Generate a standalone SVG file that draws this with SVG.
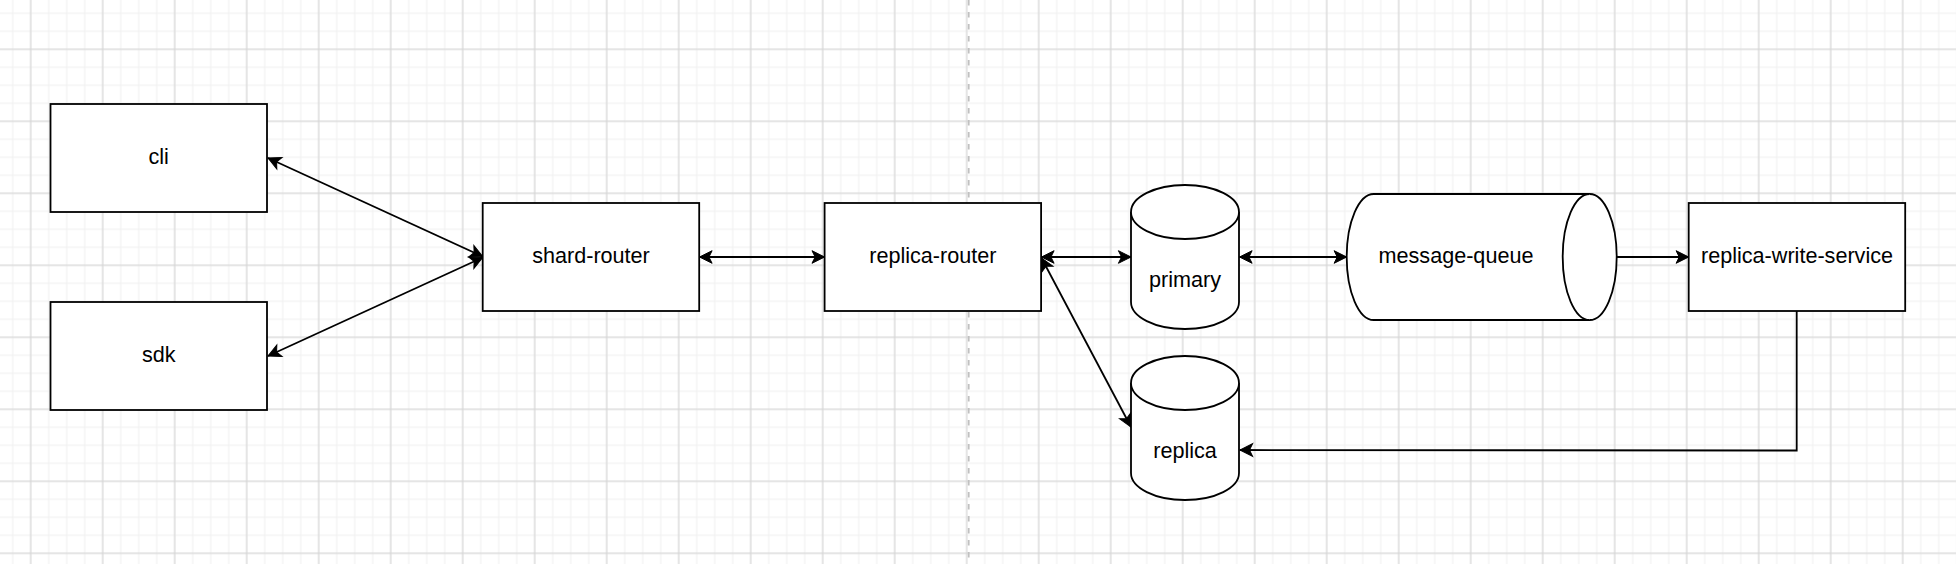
<svg xmlns="http://www.w3.org/2000/svg" width="1956" height="564" viewBox="0 0 1956 564">
<style>
.box{fill:#ffffff;stroke:#000000;stroke-width:1.8}
.lbl{font-family:"Liberation Sans",Arial,Helvetica,sans-serif;font-size:21.6px;fill:#000000;text-anchor:middle}
.edge{fill:none;stroke:#000000;stroke-width:1.8}
</style>
<defs>
<pattern id="minor" patternUnits="userSpaceOnUse" x="3.7" y="4.3" width="18" height="18">
<path d="M9,0 V18 M0,9 H18" stroke="#efefef" stroke-width="1" fill="none"/>
</pattern>
<pattern id="major" patternUnits="userSpaceOnUse" x="-5.3" y="13.3" width="72" height="72">
<path d="M36,0 V72 M0,36 H72" stroke="#d3d3d3" stroke-width="1" fill="none"/>
</pattern>
<marker id="arr" markerUnits="userSpaceOnUse" markerWidth="16" markerHeight="16" viewBox="-14 -8 16 16" refX="0" refY="0" orient="auto-start-reverse" overflow="visible">
<path d="M0,0 L-12.6,-6.3 L-9.45,0 L-12.6,6.3 Z" fill="#000000" stroke="#000000" stroke-width="1"/>
</marker>
</defs>
<g id="background">
<rect width="1956" height="564" fill="#ffffff"/>
<rect width="1956" height="564" fill="url(#minor)"/>
<rect width="1956" height="564" fill="url(#major)"/>
<line x1="968.7" y1="0" x2="968.7" y2="564" stroke="#c0c0c0" stroke-width="1.8" stroke-dasharray="5.4 6.6"/>
</g>
<g id="connectors">
<path class="edge" d="M268,158 L482.7,256.5" marker-start="url(#arr)" marker-end="url(#arr)"/>
<path class="edge" d="M268,356 L482.7,257.5" marker-start="url(#arr)" marker-end="url(#arr)"/>
<path class="edge" d="M699.5,257 L824.6,257" marker-start="url(#arr)" marker-end="url(#arr)"/>
<path class="edge" d="M1041.5,257 L1131,257" marker-start="url(#arr)" marker-end="url(#arr)"/>
<path class="edge" d="M1041.5,258 L1131,427" marker-start="url(#arr)" marker-end="url(#arr)"/>
<path class="edge" d="M1239.5,257 L1346.7,257" marker-start="url(#arr)" marker-end="url(#arr)"/>
<path class="edge" d="M1616.7,257 L1688.7,257" marker-end="url(#arr)"/>
<path class="edge" d="M1796.7,311 L1796.7,450.5 L1240,450" marker-end="url(#arr)"/>
</g>
<g id="cli">
<rect class="box" x="50.5" y="104" width="216.5" height="108"/>
<text class="lbl" x="158.7" y="163.8">cli</text>
</g>
<g id="sdk">
<rect class="box" x="50.5" y="302" width="216.5" height="108"/>
<text class="lbl" x="158.7" y="361.8">sdk</text>
</g>
<g id="shard-router">
<rect class="box" x="482.7" y="203" width="216.5" height="108"/>
<text class="lbl" x="591" y="262.8">shard-router</text>
</g>
<g id="replica-router">
<rect class="box" x="824.6" y="203" width="216.5" height="108"/>
<text class="lbl" x="932.8" y="262.8">replica-router</text>
</g>
<g id="primary">
<path class="box" d="M1131,212 A54,27 0 0 1 1239,212 L1239,302 A54,27 0 0 1 1131,302 Z"/>
<path class="box" d="M1131,212 A54,27 0 0 0 1239,212" fill="none"/>
<text class="lbl" x="1185" y="286.5">primary</text>
</g>
<g id="replica">
<path class="box" d="M1131,383 A54,27 0 0 1 1239,383 L1239,473 A54,27 0 0 1 1131,473 Z"/>
<path class="box" d="M1131,383 A54,27 0 0 0 1239,383" fill="none"/>
<text class="lbl" x="1185" y="457.5">replica</text>
</g>
<g id="message-queue">
<path class="box" d="M1373.7,194 L1589.7,194 A27,63 0 0 1 1589.7,320 L1373.7,320 A27,63 0 0 1 1373.7,194 Z"/>
<path class="box" d="M1589.7,194 A27,63 0 0 0 1589.7,320" fill="none"/>
<text class="lbl" x="1456" y="262.8">message-queue</text>
</g>
<g id="replica-write-service">
<rect class="box" x="1688.7" y="203" width="216.5" height="108"/>
<text class="lbl" x="1797" y="262.8">replica-write-service</text>
</g>
</svg>
